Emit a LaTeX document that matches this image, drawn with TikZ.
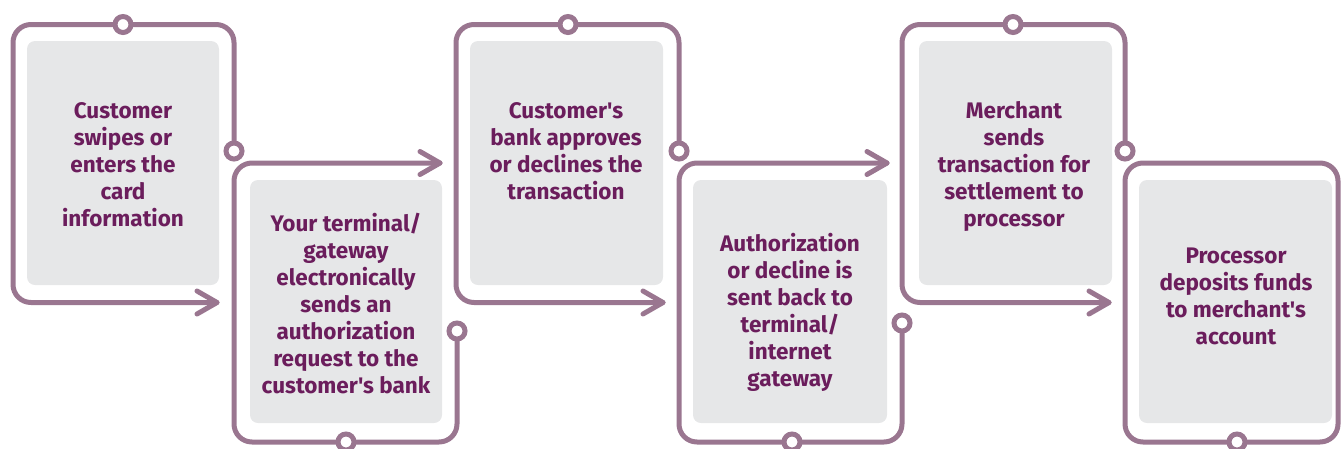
\documentclass[tikz,border=0pt]{standalone}
\usepackage{fontspec}
\setmainfont{Fira Sans}[Ligatures=TeXOff]
\definecolor{lineC}{HTML}{9A7690}
\definecolor{txtC}{HTML}{6B1D5C}
\definecolor{boxC}{HTML}{E6E7E8}
\tikzset{
  outline/.style={draw=lineC, line width=5pt, rounded corners=18pt, line cap=round, line join=round},
  chev/.style={draw=lineC, line width=5pt, line cap=round, line join=round},
  dot/.style={circle, draw=lineC, fill=white, line width=5pt, minimum size=16pt, inner sep=0pt},
  greybox/.style={fill=boxC, rounded corners=8pt},
  lbl/.style={text=txtC, font=\fontsize{22.5pt}{27pt}\selectfont\bfseries, align=center, inner sep=0pt}
}
\begin{document}
\begin{tikzpicture}[x=1pt,y=-1pt]
\useasboundingbox (0,0) rectangle (1341,448);
% grey boxes
\fill[greybox] (27,41) rectangle (219,285);
\fill[greybox] (470,41) rectangle (663,285);
\fill[greybox] (919,41) rectangle (1112,285);
\fill[greybox] (250,180) rectangle (442,423);
\fill[greybox] (693,180) rectangle (887,423);
\fill[greybox] (1139,180) rectangle (1332,423);
% coordinates for arrow tips
\coordinate (t1) at (217,302.5);
\coordinate (t2) at (440,163);
\coordinate (t3) at (663,302.5);
\coordinate (t4) at (887,163);
\coordinate (t5) at (1109,302.5);
% outlines
\draw[outline] (234,151) -- (234,24.5) -- (13,24.5) -- (13,302.5) -- (t1);
\draw[outline] (457,331) -- (457,442) -- (234,442) -- (234,163) -- (t2);
\draw[outline] (679,151) -- (679,24.5) -- (456,24.5) -- (456,302.5) -- (t3);
\draw[outline] (902,323) -- (902,442) -- (679,442) -- (679,163) -- (t4);
\draw[outline] (1125,151) -- (1125,24.5) -- (902,24.5) -- (902,302.5) -- (t5);
\draw[outline] (1125,163) rectangle (1338,442);
% chevrons
\foreach \t in {t1,t2,t3,t4,t5}{
  \draw[chev] ([shift={(-20,-11.5)}]\t) -- (\t) -- ([shift={(-20,11.5)}]\t);
}
% dots
\node[dot] (d1a) at (123,24.5) {};
\node[dot] (d1b) at (234,151) {};
\node[dot] (d2a) at (346,442) {};
\node[dot] (d2b) at (457,331) {};
\node[dot] (d3a) at (568,24.5) {};
\node[dot] (d3b) at (679,151) {};
\node[dot] (d4a) at (792,442) {};
\node[dot] (d4b) at (902,323) {};
\node[dot] (d5a) at (1013,24.5) {};
\node[dot] (d5b) at (1125,151) {};
\node[dot] (d6a) at (1237,442) {};
% labels
\node[lbl] (l1) at (123,165) {Customer\\swipes or\\enters the\\card\\information};
\node[lbl] (l2) at (346,303.5) {Your terminal/\\gateway\\electronically\\sends an\\authorization\\request to the\\customer's bank};
\node[lbl] (l3) at (566,151.5) {Customer's\\bank approves\\or declines the\\transaction};
\node[lbl] (l4) at (790,312) {Authorization\\or decline is\\sent back to\\terminal/\\internet\\gateway};
\node[lbl] (l5) at (1014,166) {Merchant\\sends\\transaction for\\settlement to\\processor};
\node[lbl] (l6) at (1236,296.5) {Processor\\deposits funds\\to merchant's\\account};
\end{tikzpicture}
\end{document}
